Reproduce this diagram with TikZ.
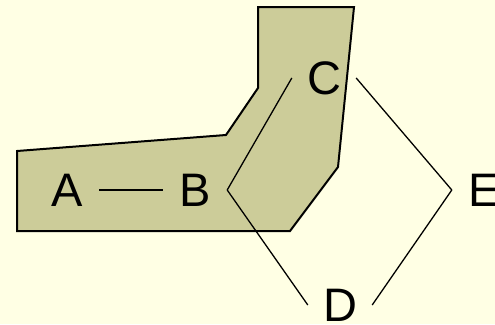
\documentclass[tikz,border=0pt]{standalone}
\usepackage{fontspec}
\setmainfont{Liberation Sans}
\usepackage{tikz}
\usepackage{xcolor}
\definecolor{paleCream}{RGB}{255,255,228}
\definecolor{regionOlive}{RGB}{204,204,153}

\begin{document}
\begin{tikzpicture}[
  x=1pt,y=-1pt,
  every node/.style={font=\fontsize{47}{47}\selectfont},
  letter/.style={inner sep=0pt,minimum width=64pt},
  link/.style={draw=black,line width=1.3pt},
  region/.style={draw=black,fill=regionOlive,line width=2pt,line join=miter}
]
  \fill[paleCream] (0,0) rectangle (495,324);
  \useasboundingbox (0,0) rectangle (495,324);

  % shaded region behind the graph
  \draw[region] (17,151) -- (226,135) -- (258,88) -- (258,7) -- (354,7)
    -- (338,167) -- (290,231) -- (17,231) -- cycle;

  \node[letter] (A) at (67,190) {A};
  \node[letter] (B) at (195,190) {B};
  \node[letter] (C) at (324,78) {C};
  \node[letter] (D) at (340,305) {D};
  \node[letter] (E) at (484,190) {E};

  \draw[link] (A.east) -- (B.west);
  \draw[link] (B.east) -- (C.west);
  \draw[link] (B.east) -- (D.west);
  \draw[link] (C.east) -- (E.west);
  \draw[link] (D.east) -- (E.west);
\end{tikzpicture}
\end{document}
